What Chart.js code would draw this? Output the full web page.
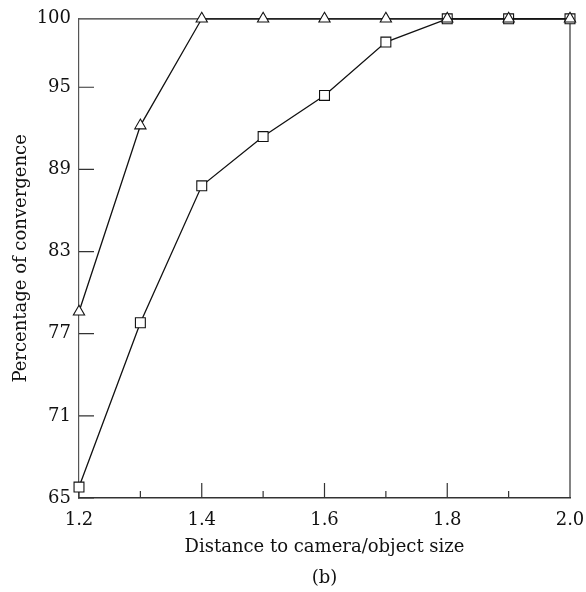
<!DOCTYPE html>
<html>
<head>
<meta charset="utf-8">
<script src="https://cdn.jsdelivr.net/npm/chart.js@4/dist/chart.umd.min.js"></script>
<style>
  html, body { margin: 0; padding: 0; background: #fff; }
</style>
</head>
<body>
<canvas id="myChart" width="586" height="592"></canvas>
<script>
const distances = [1.2, 1.3, 1.4, 1.5, 1.6, 1.7, 1.8, 1.9, 2.0];
const triangleSeries = [78.6, 92.2, 100, 100, 100, 100, 100, 100, 100];
const squareSeries = [65.8, 77.8, 87.8, 91.4, 94.4, 98.3, 100, 100, 100];
const yTicks = [65, 71, 77, 83, 89, 95, 100];
const xTicks = [1.2, 1.4, 1.6, 1.8, 2.0];
const xMinorTicks = [1.3, 1.5, 1.7, 1.9];

const FONT = 'DejaVu Serif';
const INK = '#111';

function toPoints(values) {
    return values.map((v, i) => ({ x: distances[i], y: v }));
}

// inward ticks, top/right frame and the "(b)" caption
const frameAndTicks = {
    id: 'frameAndTicks',
    beforeDatasetsDraw(chart) {
        const { ctx, chartArea: a, scales: { x, y } } = chart;
        ctx.save();
        ctx.strokeStyle = '#333';
        ctx.lineWidth = 1.2;
        ctx.beginPath();
        ctx.moveTo(a.left, a.top);
        ctx.lineTo(a.right, a.top);
        ctx.lineTo(a.right, a.bottom);
        yTicks.forEach(v => {
            const py = y.getPixelForValue(v);
            ctx.moveTo(a.left, py);
            ctx.lineTo(a.left + 15, py);
        });
        xTicks.forEach(v => {
            const px = x.getPixelForValue(v);
            ctx.moveTo(px, a.bottom);
            ctx.lineTo(px, a.bottom - 15);
        });
        xMinorTicks.forEach(v => {
            const px = x.getPixelForValue(v);
            ctx.moveTo(px, a.bottom);
            ctx.lineTo(px, a.bottom - 7);
        });
        ctx.stroke();

        ctx.fillStyle = INK;
        ctx.font = '18px "' + FONT + '"';
        ctx.textAlign = 'center';
        ctx.textBaseline = 'middle';
        ctx.fillText('(b)', (a.left + a.right) / 2, 578);
        ctx.restore();
    }
};

var ctx = document.getElementById('myChart').getContext('2d');

var chart = new Chart(ctx, { //eslint-disable-line
    type: 'line',
    data: {
        datasets: [
            {
                label: 'triangles',
                data: toPoints(triangleSeries),
                borderColor: INK,
                borderWidth: 1.3,
                pointStyle: 'triangle',
                pointRadius: 6.5,
                pointBorderWidth: 1.1,
                pointBackgroundColor: '#fff',
                pointBorderColor: INK,
                clip: false
            },
            {
                label: 'squares',
                data: toPoints(squareSeries),
                borderColor: INK,
                borderWidth: 1.3,
                pointStyle: 'rect',
                pointRadius: 7,
                pointBorderWidth: 1.1,
                pointBackgroundColor: '#fff',
                pointBorderColor: INK,
                clip: false
            }
        ]
    },
    options: {
        responsive: false,
        animation: false,
        layout: { padding: { top: 16, right: 16, left: 0, bottom: 0 } },
        plugins: {
            legend: { display: false },
            tooltip: { enabled: false }
        },
        scales: {
            x: {
                type: 'linear',
                min: 1.2,
                max: 2.0,
                afterBuildTicks: s => { s.ticks = xTicks.map(v => ({ value: v })); },
                afterFit: s => { s.height = 94; s.paddingLeft = 0; s.paddingRight = 0; },
                grid: { display: false, drawTicks: false },
                border: { display: true, color: '#333', width: 1.4 },
                ticks: {
                    color: INK,
                    padding: 12,
                    maxRotation: 0,
                    font: { family: FONT, size: 18 },
                    callback: v => v.toFixed(1)
                },
                title: {
                    display: true,
                    text: 'Distance to camera/object size',
                    color: INK,
                    font: { family: FONT, size: 18 },
                    padding: { top: 0, bottom: 34 }
                }
            },
            y: {
                min: 65,
                max: 100,
                afterBuildTicks: s => { s.ticks = yTicks.map(v => ({ value: v })); },
                afterFit: s => { s.width = 79; },
                grid: { display: false, drawTicks: false },
                border: { display: true, color: '#555', width: 1.2 },
                ticks: {
                    color: INK,
                    padding: 8,
                    font: { family: FONT, size: 18 }
                },
                title: {
                    display: true,
                    text: 'Percentage of convergence',
                    color: INK,
                    font: { family: FONT, size: 18 },
                    padding: { top: 11, bottom: 0 }
                }
            }
        }
    },
    plugins: [frameAndTicks]
});
</script>
</body>
</html>
